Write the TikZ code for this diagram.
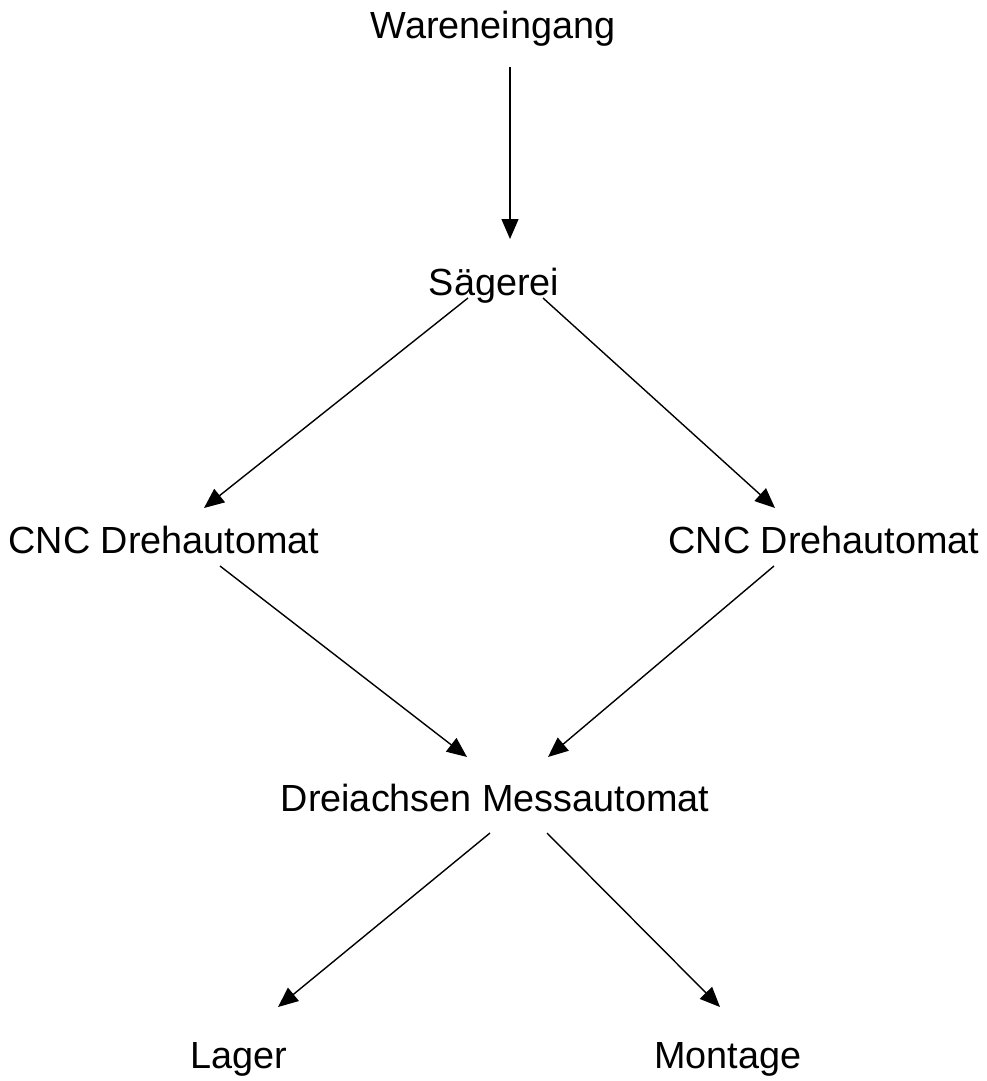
\documentclass[tikz,border=0pt]{standalone}
\usepackage{fontspec}
\setmainfont{Liberation Sans}
\usetikzlibrary{arrows.meta}
\begin{document}
\begin{tikzpicture}[x=1pt,y=-1pt,
  lbl/.style={anchor=base,inner sep=0pt,font=\fontsize{37.8}{44}\selectfont},
  conn/.style={line width=1.4pt,-{Triangle[length=20pt,width=17pt]}}]
\useasboundingbox (0,0) rectangle (987,1081);
\node[lbl] (we) at (493,39) {Wareneingang};
\node[lbl] (sg) at (494,295) {Sägerei};
\node[lbl] (c1) at (164,553) {CNC Drehautomat};
\node[lbl] (c2) at (824,553) {CNC Drehautomat};
\node[lbl] (da) at (495,811) {Dreiachsen Messautomat};
\node[lbl] (la) at (239,1068) {Lager};
\node[lbl] (mo) at (728,1068) {Montage};
\coordinate (a1s) at (510,67);  \coordinate (a1e) at (510,239);
\coordinate (a2s) at (468,298); \coordinate (a2e) at (204,508);
\coordinate (a3s) at (543,298); \coordinate (a3e) at (775,508);
\coordinate (a4s) at (220,566); \coordinate (a4e) at (467,757);
\coordinate (a5s) at (774,566); \coordinate (a5e) at (548,757);
\coordinate (a6s) at (490,833); \coordinate (a6e) at (278,1007);
\coordinate (a7s) at (547,833); \coordinate (a7e) at (720,1007);
\foreach \i in {1,...,7} \draw[conn] (a\i s) -- (a\i e);
\end{tikzpicture}
\end{document}
